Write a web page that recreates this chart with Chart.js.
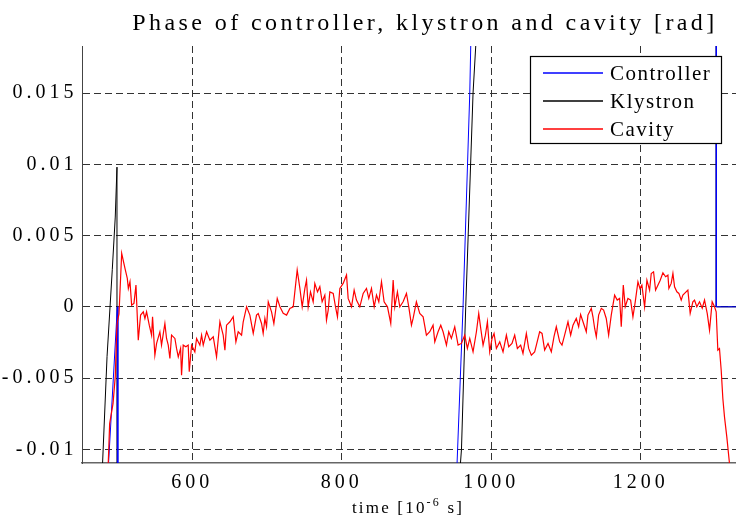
<!DOCTYPE html>
<html>
<head>
<meta charset="utf-8">
<script src="https://cdn.jsdelivr.net/npm/chart.js@4.4.1/dist/chart.umd.min.js"></script>
<style>
  html, body { margin: 0; padding: 0; background: #fff; overflow: hidden; }
  canvas { display: block; }
</style>
</head>
<body>
<canvas id="chart" width="736" height="517"></canvas>
<script>
// axis ticks / ranges
const xTicks = [600, 800, 1000, 1200];
const yTicks = [-0.01, -0.005, 0, 0.005, 0.01, 0.015];
const xRange = [452.5, 1327.5];
const yRange = [-0.01096, 0.0183];
const seriesNames = ["Controller", "Klystron", "Cavity"];
const seriesColors = ["#0000ff", "#000000", "#ff0000"];
const titleText = "Phase of controller, klystron and cavity [rad]";

// Controller phase (time in us, phase in rad)
const ctrlT = [452, 488, 499.8, 500.6, 953, 954.3, 962.3, 971.3, 972.6, 1300.8, 1301.2, 1400];
const ctrlV = [-0.047, -0.011, 0, -0.3, -0.0125, -0.011, 0, 0.015, 0.0183, 0.5, 0, 0];

// Klystron phase
const klyT = [452, 480, 486, 493, 497, 499.3, 499.6, 957, 958.8, 960.2, 965.9, 975.7, 979.3, 1300.8, 1301.2, 1400];
const klyV = [-0.04, -0.011, -0.0035, 0.0026, 0.0063, 0.0098, -0.3, -0.0135, -0.011, -0.01, 0, 0.015, 0.0183, 0.5, 0, 0];

// Cavity phase
const cavT = [
  470, 487.6, 489.5, 494, 497, 499, 499.8, 502, 505.6, 510.0,
  513.1, 514.5, 516.7, 518.9, 522.0, 524.7, 527.8, 530.9, 534.5, 536.7,
  538.9, 542.5, 545.6, 546.9, 550.0, 552.3, 556.7, 558.9, 563.4, 565.6,
  567.9, 570.1, 572.3, 576.8, 579.0, 581.3, 584.4, 585.7, 587.9, 591.5,
  594.6, 596.0, 599.1, 603.5, 605.8, 610.2, 612.5, 614.7, 619.2, 623.6,
  628.1, 632.5, 637.0, 641.4, 643.7, 645.9, 650.4, 654.8, 658.4, 661.5,
  666.0, 668.2, 672.7, 677.1, 681.6, 686.0, 688.3, 692.7, 694.9, 697.2,
  699.4, 701.7, 706.1, 709.2, 713.7, 717.3, 721.7, 726.2, 730.6, 735.1,
  740.4, 744.0, 747.1, 750.7, 752.9, 755.1, 758.2, 761.8, 764.0, 767.6,
  770.7, 773.8, 777.4, 779.6, 781.9, 784.1, 788.6, 791.7, 794.3, 797.5,
  801.9, 806.4, 808.6, 813.1, 816.6, 819.7, 824.2, 828.7, 833.1, 836.2,
  839.8, 843.4, 846.5, 849.6, 853.2, 856.7, 861.2, 865.6, 868.8, 871.0,
  874.5, 877.7, 882.1, 886.6, 889.7, 893.3, 895.5, 899.9, 904.4, 908.9,
  913.3, 917.8, 922.2, 924.5, 928.9, 932.5, 935.6, 940.1, 943.2, 946.7,
  951.2, 955.7, 960.1, 964.6, 968.1, 971.3, 975.7, 980.2, 983.3, 986.0,
  989.1, 992.2, 994.9, 998.0, 1001.1, 1003.8, 1006.9, 1011.4, 1015.8, 1020.3,
  1023.4, 1027.8, 1031.4, 1035.0, 1039.4, 1042.5, 1047.0, 1050.1, 1053.7, 1058.1,
  1060.4, 1064.8, 1068.0, 1071.5, 1076.0, 1080.4, 1084.0, 1087.1, 1091.6, 1094.7,
  1098.2, 1102.7, 1106.3, 1109.4, 1113.8, 1117.0, 1119.6, 1122.8, 1127.2, 1129.4,
  1133.9, 1136.1, 1138.4, 1140.6, 1143.7, 1147.3, 1150.4, 1153.9, 1157.1, 1160.6,
  1165.1, 1168.6, 1171.8, 1174.0, 1176.7, 1179.3, 1182.9, 1186.5, 1189.6, 1192.7,
  1196.3, 1199.0, 1201.6, 1205.2, 1208.3, 1211.9, 1214.1, 1217.2, 1219.9, 1223.0,
  1226.1, 1229.7, 1233.3, 1236.4, 1237.7, 1240.8, 1243.1, 1245.3, 1248.4, 1251.1,
  1254.2, 1256.4, 1258.7, 1263.1, 1266.2, 1269.8, 1272.0, 1275.1, 1278.7, 1282.3,
  1285.4, 1289.0, 1292.1, 1295.6, 1298.8, 1301.0, 1303.2, 1305.4, 1307.7, 1309.9,
  1312.1, 1315.2, 1318.8, 1326, 1335
];
const cavV = [
  -0.025, -0.011, -0.0082, -0.0068, -0.0049, -0.0016, -0.00105, -0.0005, 0.00375, 0.00269,
  0.00199, 0.00129, 0.00176, 0.00012, 0.00024, 0.00152, -0.00234, -0.00058, -0.00035, -0.00082,
  -0.00035, -0.00129, -0.00199, -0.0007, -0.00339, -0.00257, -0.00176, -0.00269, -0.00117, -0.00222,
  -0.00269, -0.00363, -0.00199, -0.00222, -0.00292, -0.00351, -0.00292, -0.0048, -0.00269, -0.00281,
  -0.00269, -0.00456, -0.00269, -0.00316, -0.00222, -0.00269, -0.00199, -0.00269, -0.00175, -0.00234,
  -0.0021, -0.00351, -0.00105, -0.00199, -0.00304, -0.00129, -0.00105, -0.0007, -0.00246, -0.00175,
  -0.00199, -0.00105, 0.0, -0.00058, -0.00187, -0.00058, -0.00047, -0.00117, -0.00187, -0.00082,
  -0.0014, 0.00035, -0.00035, -0.00117, 0.00059, 0.0, -0.00046, -0.00058, -0.00011, 0.0,
  0.00258, 0.00129, 0.0, 0.00129, 0.00187, 0.0, 0.00105, 0.00035, 0.00164, 0.00105,
  0.00141, 0.00035, 0.00082, -0.00093, -0.00023, 0.00105, 0.00094, 0.0, -0.0007, 0.00129,
  0.00164, 0.00223, 0.00059, 0.0, 0.00117, 0.00047, 0.0, 0.00094, 0.00129, 0.00059,
  0.00129, 0.0, 0.00082, 0.00035, 0.00176, 0.00035, 0.0, -0.00117, 0.00187, 0.0,
  0.00105, 0.0, 0.00035, 0.00094, 0.0, -0.00129, -0.00082, 0.00035, -0.00046, -0.0007,
  -0.00199, -0.00175, -0.00129, -0.00246, -0.00175, -0.00129, -0.00175, -0.00269, -0.00175, -0.00222,
  -0.0014, -0.00269, -0.00257, -0.00199, -0.00292, -0.00222, -0.00316, -0.00175, -0.00046, -0.00152,
  -0.00269, -0.00199, -0.00105, -0.00316, -0.00222, -0.00187, -0.00292, -0.00246, -0.00316, -0.00199,
  -0.0028, -0.00257, -0.00199, -0.00292, -0.00269, -0.00327, -0.00187, -0.00292, -0.0034, -0.00316,
  -0.00269, -0.00175, -0.00187, -0.00304, -0.00257, -0.00316, -0.0021, -0.0014, -0.00246, -0.00269,
  -0.00199, -0.00105, -0.00199, -0.00129, -0.00082, -0.0014, -0.00054, -0.00105, -0.00175, -0.00058,
  -0.00011, -0.0007, -0.00152, -0.0021, -0.00058, -0.00011, -0.00023, -0.00082, -0.00199, -0.00058,
  0.00082, 0.00047, 0.00059, -0.0014, 0.00152, 0.0, 0.00059, 0.00047, -0.0007, 0.00035,
  0.00176, 0.00129, 0.00152, 0.0, 0.00187, 0.00117, 0.00234, 0.00246, 0.00117, 0.00152,
  0.00187, 0.00239, 0.00211, 0.00222, 0.00129, 0.00164, 0.00234, 0.0014, 0.00105, 0.00094,
  0.00047, 0.00082, 0.00094, 0.00117, -0.00046, 0.00035, 0.00047, 0.0, 0.00035, -0.0001,
  0.00047, -0.00046, -0.00164, 0.00035, 0.0, -0.00035, -0.00304, -0.00293, -0.00445, -0.00643,
  -0.00772, -0.00913, -0.011, -0.0145, -0.02
];

const serif = '"Liberation Serif", "Times New Roman", serif';

function points(ts, vs) {
    return ts.map((t, i) => ({ x: t, y: vs[i] }));
}

// MATLAB-like texts: spaced title, boxed legend, x label with exponent
const matlabText = {
    id: "matlabText",
    beforeDraw(chart) {
        chart.ctx.letterSpacing = "4px";
    },
    afterDraw(chart) {
        const ctx = chart.ctx;
        ctx.save();
        ctx.fillStyle = "#000";
        ctx.textBaseline = "alphabetic";

        // title
        ctx.font = `24px ${serif}`;
        ctx.letterSpacing = "3.4px";
        ctx.textAlign = "center";
        ctx.fillText(titleText, 425, 30);

        // x label
        ctx.textAlign = "left";
        ctx.letterSpacing = "2.2px";
        const parts = [["time [10", 17, 0], ["-6", 12, -7], [" s]", 17, 0]];
        let w = 0;
        parts.forEach((p) => {
            ctx.font = `${p[1]}px ${serif}`;
            w += ctx.measureText(p[0]).width;
        });
        let x = 408 - w / 2;
        parts.forEach((p) => {
            ctx.font = `${p[1]}px ${serif}`;
            ctx.fillText(p[0], x, 513 + p[2]);
            x += ctx.measureText(p[0]).width;
        });

        // legend
        ctx.fillStyle = "#fff";
        ctx.fillRect(530.5, 56.5, 191, 87);
        ctx.strokeStyle = "#000";
        ctx.lineWidth = 1.2;
        ctx.strokeRect(530.5, 56.5, 191, 87);
        ctx.font = `21px ${serif}`;
        ctx.letterSpacing = "1.5px";
        ctx.textBaseline = "middle";
        seriesNames.forEach((name, i) => {
            const y = 73 + i * 28;
            ctx.beginPath();
            ctx.strokeStyle = seriesColors[i];
            ctx.lineWidth = 1.5;
            ctx.moveTo(543, y);
            ctx.lineTo(603, y);
            ctx.stroke();
            ctx.fillStyle = "#000";
            ctx.fillText(name, 610, y + 1);
        });
        ctx.restore();
    },
};

const gridStyle = { color: "#333", lineWidth: 1, drawTicks: false };

new Chart(document.getElementById("chart"), {
    type: "line",
    data: {
        datasets: [
            { label: seriesNames[0], data: points(ctrlT, ctrlV), borderColor: seriesColors[0], borderWidth: 1, order: 1 },
            { label: seriesNames[1], data: points(klyT, klyV), borderColor: seriesColors[1], borderWidth: 1, order: 2 },
            { label: seriesNames[2], data: points(cavT, cavV), borderColor: seriesColors[2], borderWidth: 1.2, order: 0 },
        ],
    },
    options: {
        responsive: false,
        animation: false,
        events: [],
        layout: { padding: { top: 46, right: 0, bottom: 0, left: 0 } },
        elements: { point: { radius: 0 }, line: { tension: 0, fill: false } },
        plugins: {
            legend: { display: false },
            title: { display: false },
            tooltip: { enabled: false },
        },
        scales: {
            x: {
                type: "linear",
                min: xRange[0],
                max: xRange[1],
                afterBuildTicks: (axis) => {
                    axis.ticks = xTicks.map((v) => ({ value: v }));
                },
                afterFit: (scale) => {
                    scale.height = 54;
                },
                ticks: {
                    font: { family: serif, size: 20 },
                    color: "#000",
                    padding: 8,
                    maxRotation: 0,
                    autoSkip: false,
                    callback: (v) => String(v),
                },
                grid: gridStyle,
                border: { display: true, color: "#666", width: 1.5, dash: [7, 4] },
            },
            y: {
                type: "linear",
                min: yRange[0],
                max: yRange[1],
                afterBuildTicks: (axis) => {
                    axis.ticks = yTicks.map((v) => ({ value: v }));
                },
                afterFit: (scale) => {
                    scale.width = 82;
                },
                ticks: {
                    font: { family: serif, size: 20 },
                    color: "#000",
                    padding: 4.5,
                    callback: (v) => String(v),
                },
                grid: gridStyle,
                border: { display: true, color: "#444", width: 1, dash: [7, 4] },
            },
        },
    },
    plugins: [matlabText],
});
</script>
</body>
</html>
